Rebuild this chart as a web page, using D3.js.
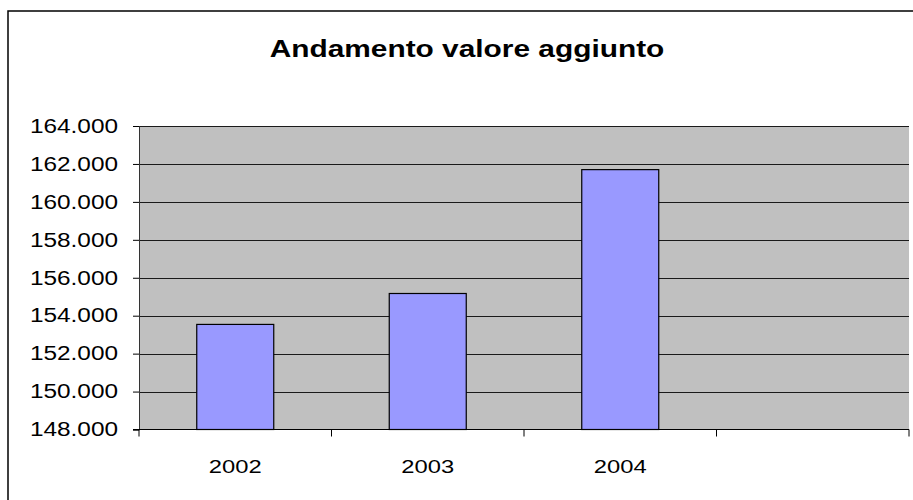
<!DOCTYPE html>
<html>
<head>
<meta charset="utf-8">
<script src="https://d3js.org/d3.v7.min.js"></script>
<style>
  body { margin: 0; background: #fff; }
  svg { display: block; }
  text { font-family: "Liberation Sans", Arial, sans-serif; fill: #000; }
</style>
</head>
<body>
<div id="grafico"></div>
<script>
var titolo = "Andamento valore aggiunto";
var anni = ["2002", "2003", "2004", ""];
var valori = [153540, 155170, 161700];
var yTicks = [148000, 150000, 152000, 154000, 156000, 158000, 160000, 162000, 164000];

var width = 913, height = 500;
var pLeft = 139, pRight = 909, pTop = 126, pBottom = 429.5;
var stretch = 1.25; // nel grafico il testo e' piu' largo del normale

var it = d3.formatLocale({decimal: ",", thousands: ".", grouping: [3], currency: ["", " €"]});
var fmt = it.format(",.0f");

var svg = d3.select("#grafico").append("svg")
  .attr("width", width)
  .attr("height", height);

// bordo del grafico (esce dall'immagine a destra e in basso)
svg.append("rect")
  .attr("x", 8).attr("y", 11)
  .attr("width", 1000).attr("height", 700)
  .attr("fill", "#fff")
  .attr("stroke", "#000")
  .attr("stroke-width", 1.5);

svg.append("text")
  .attr("transform", "translate(467,57) scale(1.27,1)")
  .attr("text-anchor", "middle")
  .style("font-size", "23.5px")
  .style("font-weight", "bold")
  .text(titolo);

var x = d3.scaleBand()
  .domain(anni)
  .range([pLeft, pRight])
  .paddingInner(0.6)
  .paddingOuter(0.3);

var y = d3.scaleLinear()
  .domain([148000, 164000])
  .range([pBottom, pTop]);

// area del grafico
svg.append("rect")
  .attr("x", pLeft).attr("y", pTop)
  .attr("width", pRight - pLeft).attr("height", pBottom - pTop)
  .attr("fill", "#c0c0c0");

// griglia
svg.append("g")
  .selectAll("line")
  .data(yTicks.slice(1))
  .enter().append("line")
  .attr("x1", pLeft).attr("x2", pRight)
  .attr("y1", function(d){ return Math.round(y(d)) + 0.5; })
  .attr("y2", function(d){ return Math.round(y(d)) + 0.5; })
  .attr("stroke", "#1a1a1a")
  .attr("stroke-width", 1);

// barre
svg.append("g")
  .selectAll("rect")
  .data(valori)
  .enter().append("rect")
  .attr("x", function(d, i){ return x(anni[i]); })
  .attr("y", function(d){ return y(d); })
  .attr("width", x.bandwidth())
  .attr("height", function(d){ return y(148000) - y(d); })
  .attr("fill", "#9999ff")
  .attr("stroke", "#000")
  .attr("stroke-width", 1.2);

// asse y
var assey = svg.append("g")
  .attr("transform", "translate(" + pLeft + ",0)")
  .call(d3.axisLeft(y).tickValues(yTicks).tickFormat(fmt).tickSize(6).tickPadding(21));
assey.select(".domain").attr("stroke", "#333");
assey.selectAll(".tick line").attr("stroke", "#000");
assey.selectAll(".tick text")
  .attr("x", null)
  .attr("transform", "translate(-21,0) scale(" + stretch + ",1)")
  .style("font-size", "19.5px")
  .attr("fill", "#000");

// asse x: tacche tra le categorie
var xa = d3.scalePoint().domain(d3.range(anni.length + 1)).range([pLeft, pRight]);
var assex = svg.append("g")
  .attr("transform", "translate(0," + pBottom + ")");
assex.append("line")
  .attr("x1", pLeft - 6).attr("x2", pRight)
  .attr("stroke", "#000");
assex.selectAll(".tacca")
  .data(d3.range(anni.length + 1))
  .enter().append("line")
  .attr("class", "tacca")
  .attr("x1", function(d){ return xa(d); })
  .attr("x2", function(d){ return xa(d); })
  .attr("y1", 0).attr("y2", 7)
  .attr("stroke", "#000");
assex.selectAll(".anno")
  .data(anni)
  .enter().append("text")
  .attr("class", "anno")
  .attr("transform", function(d){ return "translate(" + (x(d) + x.bandwidth() / 2) + ",43.5) scale(" + stretch + ",1)"; })
  .attr("text-anchor", "middle")
  .style("font-size", "19px")
  .text(function(d){ return d; });
</script>
</body>
</html>
